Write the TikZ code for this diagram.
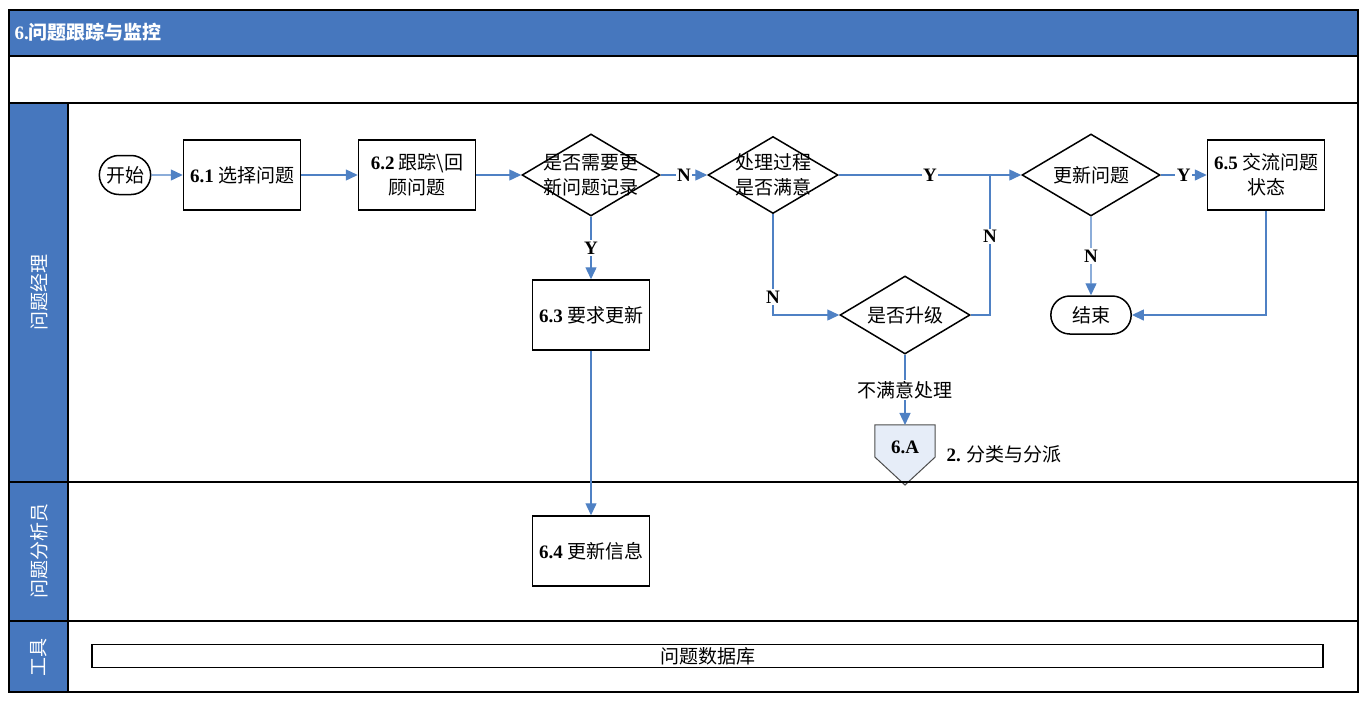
\documentclass[tikz,border=0pt]{standalone}
\usepackage{fontspec}
\setmainfont{Liberation Serif}
\newfontfamily\cjk{Noto Sans CJK SC}
\usepackage{tikz}
\usetikzlibrary{positioning,arrows.meta,shapes.geometric,shapes.misc,backgrounds}

\definecolor{laneblue}{HTML}{4677BE}
\definecolor{flowblue}{HTML}{4F81C4}
\definecolor{pagefill}{HTML}{E6EDF8}
\newcommand\zhfont{\cjk\fontsize{19pt}{25pt}\selectfont}
\newcommand\stepno[1]{{\rmfamily\bfseries #1}}

\begin{document}
\begin{tikzpicture}[x=1pt,y=-1pt,on grid,font=\zhfont]
            \tikzstyle{process}=[draw, line width=1.5pt, minimum width=117pt, minimum height=70pt, align=center, inner sep=2pt]
            \tikzstyle{decision}=[draw, line width=1.5pt, diamond, minimum width=138pt, minimum height=82pt, inner sep=0pt]
            \tikzstyle{terminal}=[draw, line width=1.5pt, rounded rectangle, minimum height=39pt]
            \tikzstyle{flow}=[color=flowblue, line width=1.4pt, -{Triangle[length=12pt,width=11pt]}]
            \tikzstyle{lbl}=[fill=white, text=black, inner sep=1.5pt, font=\rmfamily\bfseries\fontsize{19pt}{23pt}\selectfont]
            \tikzstyle{lanetext}=[rotate=90, text=white]
            \useasboundingbox (0,0) rectangle (1370,705);

            % swimlanes
            \fill[laneblue] (9,10) rectangle (1358,56);
            \fill[laneblue] (9,103) rectangle (68,692);
            \draw[line width=1.5pt] (9,56) -- (1358,56) (9,103) -- (1358,103)
                                    (9,482) -- (1358,482) (9,621) -- (1358,621) (68,103) -- (68,692);
            \draw[line width=2pt] (9,10) rectangle (1358,692);
            \node[anchor=west, text=white, font=\zhfont\bfseries] (title) at (11,32) {\stepno{6.}问题跟踪与监控};
            \node[lanetext]                  (lanemgr) at (39,292)    {问题经理};
            \node[lanetext]                  (laneana) at (39,551)    {问题分析员};
            \node[lanetext]                  (lanetool) at (39,657)   {工具};

            \node[terminal, minimum width=58pt] (start) at (125,175) {开始};
            \node[process]                   (select)  [right = 117pt of start]   {\stepno{6.1} 选择问题};
            \node[process]                   (track)   [right = 175pt of select]  {\stepno{6.2} 跟踪\textbackslash 回\\顾问题};
            \node[decision, label={[align=center]center:是否需要更\\新问题记录}]
                                             (needupd) [right = 174pt of track]   {};
            \node[decision, minimum width=130pt, minimum height=77pt, label={[align=center]center:处理过程\\是否满意}]
                                             (satisf)  [right = 182pt of needupd] {};
            \node[decision, label={center:更新问题}]
                                             (updq)    [right = 318pt of satisf]  {};
            \node[process]                   (inform)  [right = 175pt of updq]    {\stepno{6.5} 交流问题\\状态};
            \node[process]                   (request) [below = 140pt of needupd] {\stepno{6.3} 要求更新};
            \node[process]                   (update)  [below = 236pt of request] {\stepno{6.4} 更新信息};
            \node[decision, minimum width=130pt, minimum height=78pt, label={center:是否升级}]
                                             (escal)   [below right = 140pt and 132pt of satisf] {};
            \node[terminal, minimum width=87pt, minimum height=38pt]
                                             (finish)  [below = 140pt of updq]    {结束};
            \node[minimum width=60pt, minimum height=31pt, text height=25pt, text depth=0pt, font=\rmfamily\bfseries\fontsize{19pt}{23pt}\selectfont]
                                             (ref6a)   [below = 126pt of escal]   {6.A};
            \node                            (refname) [below right = 13pt and 99pt of ref6a] {\stepno{2.} 分类与分派};
            \coordinate[right = 217pt of satisf] (merge);
            \node[draw, line width=1.2pt, minimum width=1231pt, minimum height=23pt, inner sep=0pt]
                                             (db)      at (707.5,656) {问题数据库};

            \begin{scope}[on background layer]
                \draw[fill=pagefill, draw=black!70, line width=1pt] (ref6a.north west) -- (ref6a.north east) -- (ref6a.south east)
                    -- ([yshift=-28pt]ref6a.south) -- (ref6a.south west) -- cycle;
            \end{scope}

            \path[flow]
            (start)   edge                              (select)
            (select)  edge                              (track)
            (track)   edge                              (needupd)
            (needupd) edge node[lbl]         {N}         (satisf)
            (satisf)  edge node[lbl]         {Y}         (updq)
            (updq)    edge node[lbl]         {Y}         (inform)
            (needupd) edge node[lbl]         {Y}         (request)
            (request) edge                              (update)
            (updq)    edge node[lbl]         {N}         (finish)
            (escal)   edge node[fill=white, text=black, inner sep=1.5pt] {不满意处理} (ref6a)
            ;
            \draw[flow]    (satisf.south) |- node[lbl, pos=0.41] {N} (escal.west);
            \draw[flow, -] (escal.east)   -| node[lbl, pos=0.78] {N} (merge);
            \draw[flow]    (inform.south) |- (finish.east);
        \end{tikzpicture}
\end{document}
